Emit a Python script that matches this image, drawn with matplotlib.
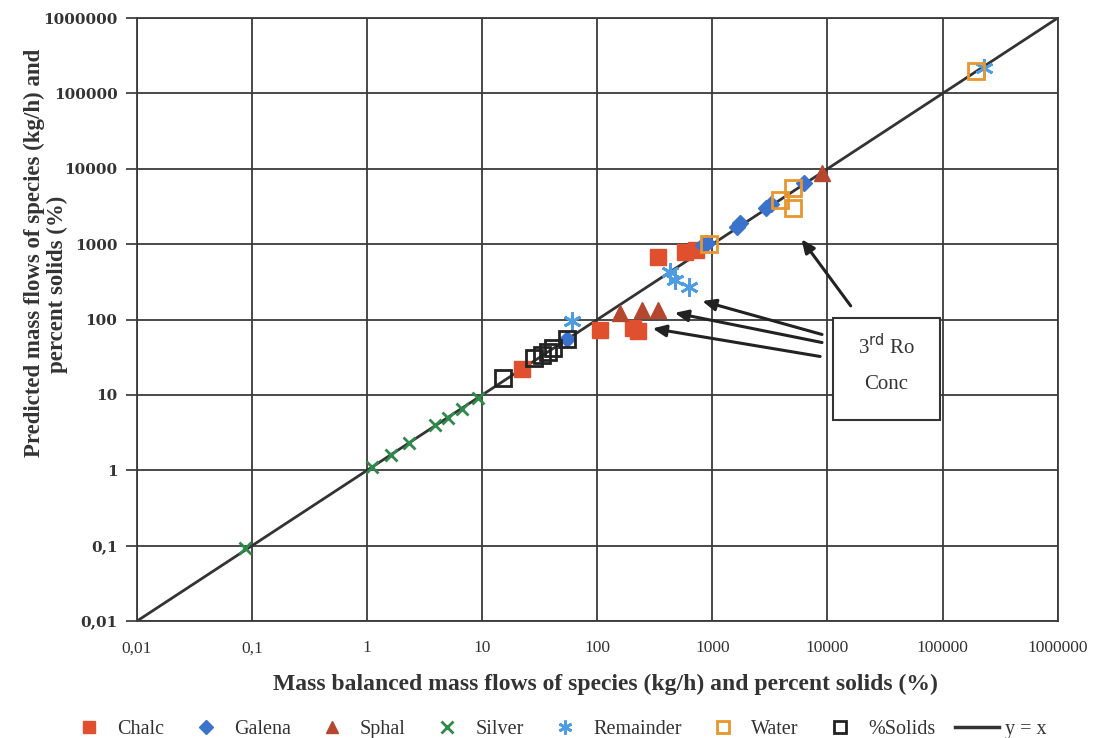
import matplotlib.pyplot as plt
from matplotlib.lines import Line2D

plt.rcParams['font.family'] = ['Liberation Serif', 'DejaVu Serif']

# mass balanced (x) vs predicted (y) flows
chalc_x = [22, 105, 205, 225, 336, 575, 725]
chalc_y = [22, 72, 78, 70, 676, 780, 830]
galena_x = [55, 830, 900, 1650, 1750, 2900, 3200, 6200]
galena_y = [56, 980, 1050, 1700, 1900, 3000, 3400, 6500]
sphal_x = [157, 245, 336, 8900]
sphal_y = [121, 132, 132, 8700]
silver_x = [0.087, 1.1, 1.6, 2.3, 3.9, 5.0, 6.7, 9.1]
silver_y = [0.093, 1.1, 1.6, 2.3, 4.0, 5.0, 6.6, 9.2]
remainder_x = [60, 430, 470, 630, 230000]
remainder_y = [95, 430, 330, 270, 220000]
water_x = [940, 3900, 5000, 5000, 195000]
water_y = [1000, 3800, 5500, 3000, 200000]
solids_x = [15, 28, 33, 37, 41, 55]
solids_y = [17, 31, 34, 37, 42, 56]

ticks = [0.01, 0.1, 1, 10, 100, 1000, 10000, 100000, 1000000]
tick_labels = ['0,01', '0,1', '1', '10', '100', '1000', '10000', '100000', '1000000']

txt = '#333333'

fig = plt.figure(figsize=(10.96, 7.38), dpi=100)
ax = fig.add_axes([0.125, 0.1585, 0.84, 0.817])
ax.set_xscale('log')
ax.set_yscale('log')
ax.set_xlim(0.01, 1e6)
ax.set_ylim(0.01, 1e6)

ax.grid(True, which='major', color='#3a3a3a', lw=1.3)
ax.set_axisbelow(True)
for s in ax.spines.values():
    s.set_color('#3a3a3a')
    s.set_linewidth(1.3)

ax.set_xticks(ticks)
ax.set_xticklabels(tick_labels, fontsize=12.5)
ax.set_yticks(ticks)
ax.set_yticklabels(tick_labels, family='DejaVu Serif', fontweight='bold', fontsize=11)
ax.minorticks_off()
ax.tick_params(axis='x', colors=txt, length=0, pad=14)
ax.tick_params(axis='y', colors=txt, length=8, width=1.2, pad=6)

ax.plot(ticks, ticks, color='#333333', lw=2, zorder=2)

ax.plot(chalc_x, chalc_y, 's', color='#e0502e', ms=12, zorder=3)
ax.plot(galena_x, galena_y, 'D', color='#3a72cc', ms=8, zorder=3)
ax.plot(sphal_x, sphal_y, '^', color='#b5472e', ms=12, zorder=3)
ax.plot(silver_x, silver_y, 'x', color='#2e8a4a', ms=9, mew=2, zorder=3)
ax.plot(remainder_x, remainder_y, marker=(6, 2, 0), ls='none', color='#4d9de0', ms=13, mew=2, zorder=4)
ax.plot(water_x, water_y, 's', mfc='none', mec='#e8962e', ms=11, mew=2, zorder=4)
ax.plot(solids_x, solids_y, 's', mfc='none', mec='#222222', ms=11, mew=2, zorder=4)

# annotation box with arrows
box = plt.Rectangle((0.756, 0.333), 0.116, 0.169, transform=ax.transAxes,
                    fc='white', ec='#333333', lw=1.5, zorder=5)
ax.add_patch(box)
ax.text(0.814, 0.455, '3$^{\\mathrm{rd}}$ Ro', transform=ax.transAxes,
        ha='center', va='center', fontsize=15, color=txt, zorder=6)
ax.text(0.814, 0.392, 'Conc', transform=ax.transAxes,
        ha='center', va='center', fontsize=15, color=txt, zorder=6)
arrows = [((0.611, 0.532), (0.747, 0.474)),
          ((0.581, 0.512), (0.747, 0.461)),
          ((0.557, 0.486), (0.745, 0.438)),
          ((0.720, 0.637), (0.777, 0.519))]
for tip, tail in arrows:
    ax.annotate('', xy=tip, xytext=tail, xycoords='axes fraction', textcoords='axes fraction',
                arrowprops=dict(arrowstyle='-|>,head_length=0.8,head_width=0.35', color='#222222', lw=2.2),
                zorder=6)

ax.set_xlabel('Mass balanced mass flows of species (kg/h) and percent solids (%)',
              fontsize=17, fontweight='bold', color=txt)
ax.xaxis.set_label_coords(0.509, -0.088)

# y label as two lines placed separately
fig.text(0.031, 0.657, 'Predicted mass flows of species (kg/h) and', rotation=90,
         ha='center', va='center', fontsize=16.5, fontweight='bold', color=txt)
fig.text(0.052, 0.614, 'percent solids (%)', rotation=90,
         ha='center', va='center', fontsize=16.5, fontweight='bold', color=txt)

handles = [
    Line2D([], [], marker='s', ls='none', color='#e0502e', ms=9),
    Line2D([], [], marker='D', ls='none', color='#3a72cc', ms=7),
    Line2D([], [], marker='^', ls='none', color='#b5472e', ms=9),
    Line2D([], [], marker='x', ls='none', color='#2e8a4a', ms=8, mew=2),
    Line2D([], [], marker=(6, 2, 0), ls='none', color='#4d9de0', ms=10, mew=2),
    Line2D([], [], marker='s', ls='none', mfc='none', mec='#e8962e', ms=9, mew=2),
    Line2D([], [], marker='s', ls='none', mfc='none', mec='#222222', ms=9, mew=2),
    Line2D([], [], color='#333333', lw=2.5),
]
names = ['Chalc', 'Galena', 'Sphal', 'Silver', 'Remainder', 'Water', '%Solids', 'y = x']
fig.legend(handles, names, loc='lower center', bbox_to_anchor=(0.508, -0.026), ncol=8,
           frameon=False, fontsize=14.5, handlelength=2.2, columnspacing=0.95, handletextpad=0.3,
           labelcolor=txt)

fig.savefig('out.png', dpi=100)
